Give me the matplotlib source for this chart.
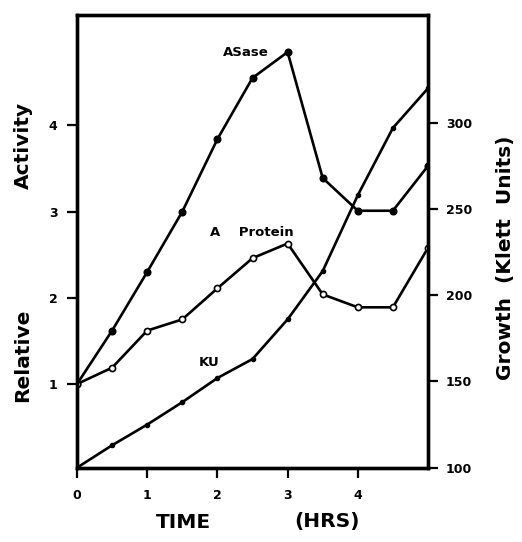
import matplotlib
matplotlib.use("Agg")
import matplotlib.pyplot as plt

# time points (hrs)
hours = [0, 0.5, 1, 1.5, 2, 2.5, 3, 3.5, 4, 4.5, 5]

# relative activity (left axis)
asase = [1.0, 1.62, 2.30, 3.0, 3.84, 4.55, 4.85, 3.39, 3.01, 3.01, 3.53]
a_protein = [1.0, 1.19, 1.62, 1.75, 2.11, 2.46, 2.63, 2.04, 1.89, 1.89, 2.58]

# growth (right axis, Klett units)
klett = [100, 113, 125, 138, 152, 163, 186, 214, 258, 297, 320]

x_ticks = [0, 1, 2, 3, 4]
left_ticks = [1, 2, 3, 4]
right_ticks = [100, 150, 200, 250, 300]

W, H = 522, 542
fig = plt.figure(figsize=(W / 100, H / 100), dpi=100)
ax = fig.add_axes([77 / W, 1 - 467.7 / H, (428 - 77) / W, (467.7 - 15) / H])
ax2 = ax.twinx()

lw = 1.9
ax.plot(hours, asase, color="black", lw=lw, marker="o", ms=4.8,
        mfc="black", mec="black", zorder=3)
ax.plot(hours, a_protein, color="black", lw=lw, marker="o", ms=4.4,
        mfc="white", mec="black", mew=1.2, zorder=3)
ax2.plot(hours, klett, color="black", lw=lw, marker="o", ms=3.0,
         mfc="black", mec="black", zorder=3)

ax.set_xlim(0, 5)
ax.set_ylim(0.03, 5.28)
ax2.set_ylim(100, 362.5)

ax.set_xticks(x_ticks)
ax.set_yticks(left_ticks)
ax2.set_yticks(right_ticks)

for a in (ax, ax2):
    for s in a.spines.values():
        s.set_linewidth(2.4)
    a.tick_params(direction="out", length=7, width=1.6, labelsize=9)
ax.tick_params(axis="x", pad=8)
ax.tick_params(axis="y", pad=7)
ax2.tick_params(axis="y", pad=6)
for lab in ax.get_xticklabels() + ax.get_yticklabels() + ax2.get_yticklabels():
    lab.set_fontweight("bold")

# curve labels
ax.text(2.08, 4.85, "ASase", fontsize=9.5, fontweight="bold", va="center", ha="left")
ax.text(1.9, 2.76, "A    Protein", fontsize=9.5, fontweight="bold", va="center", ha="left")
ax.text(1.73, 1.25, "KU", fontsize=9.5, fontweight="bold", va="center", ha="left")

# axis titles
fig.text(23 / W, 1 - 145 / H, "Activity", rotation=90, fontsize=14.5,
         fontweight="bold", ha="center", va="center")
fig.text(23 / W, 1 - 355 / H, "Relative", rotation=90, fontsize=14.5,
         fontweight="bold", ha="center", va="center")
fig.text(505 / W, 1 - 258 / H, "Growth  (Klett  Units)", rotation=90, fontsize=14.5,
         fontweight="bold", ha="center", va="center")
fig.text(183 / W, 1 - 522 / H, "TIME", fontsize=14.5, fontweight="bold",
         ha="center", va="center")
fig.text(327 / W, 1 - 522 / H, "(HRS)", fontsize=14.5, fontweight="bold",
         ha="center", va="center")

fig.savefig("out.png", dpi=100)
